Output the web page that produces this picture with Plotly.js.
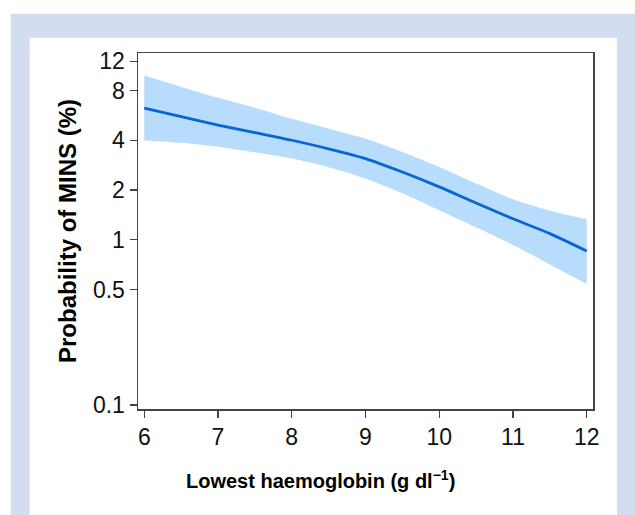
<!DOCTYPE html>
<html>
<head>
<meta charset="utf-8">
<script src="https://cdn.plot.ly/plotly-3.0.1.min.js"></script>
<style>
  html, body { margin: 0; padding: 0; background: #ffffff; }
  #chart { width: 635px; height: 515px; }
</style>
</head>
<body>
<div id="chart"></div>
<script>
// Lowest haemoglobin (g/dl)
const hb = [6, 6.5, 7, 7.5, 8, 8.5, 9, 9.5, 10, 10.5, 11, 11.5, 12];
// Probability of MINS (%) – estimate and 95% band
const probMid   = [6.25, 5.55, 4.94, 4.45, 4.0, 3.55, 3.10, 2.57, 2.09, 1.67, 1.34, 1.09, 0.855];
const probUpper = [9.84, 8.40, 7.22, 6.30, 5.39, 4.70, 4.09, 3.40, 2.76, 2.19, 1.76, 1.50, 1.33];
const probLower = [3.99, 3.86, 3.65, 3.38, 3.10, 2.75, 2.35, 1.91, 1.51, 1.19, 0.93, 0.71, 0.54];

const xTickVals = [6, 7, 8, 9, 10, 11, 12];
const yTickVals = [0.1, 0.5, 1, 2, 4, 8, 12];
const yTickText = ['0.1', '0.5', '1', '2', '4', '8', '12'];
const xTitle = '<b>Lowest haemoglobin (g dl<sup>−1</sup>)</b>';
const yTitle = '<b>Probability of MINS (%)</b>';

const FONT = 'Liberation Sans, Arial, Helvetica, sans-serif';

const traces = [
  {
    x: hb, y: probLower, type: 'scatter', mode: 'lines',
    line: { width: 0, shape: 'spline', smoothing: 0.8, color: 'rgba(0,0,0,0)' },
    hoverinfo: 'skip', showlegend: false
  },
  {
    x: hb, y: probUpper, type: 'scatter', mode: 'lines',
    fill: 'tonexty', fillcolor: '#b8dcfc',
    line: { width: 0, shape: 'spline', smoothing: 0.8, color: 'rgba(0,0,0,0)' },
    hoverinfo: 'skip', showlegend: false
  },
  {
    x: hb, y: probMid, type: 'scatter', mode: 'lines',
    line: { width: 2.8, color: '#0866d2', shape: 'spline', smoothing: 0.8 },
    showlegend: false
  }
];

const layout = {
  width: 635, height: 515,
  margin: { l: 137.5, r: 42, t: 52.5, b: 105.5, pad: 0 },
  paper_bgcolor: '#ffffff',
  plot_bgcolor: '#ffffff',
  showlegend: false,
  font: { family: FONT, color: '#111111', size: 22 },
  xaxis: {
    range: [5.915, 12.085],
    tickvals: xTickVals,
    ticks: 'outside', ticklen: 7, tickwidth: 1.3, tickcolor: '#444444',
    showline: true, linecolor: '#444444', linewidth: 1.5, mirror: true,
    showgrid: false, zeroline: false,
    tickfont: { family: FONT, size: 23, color: '#111111' }
  },
  yaxis: {
    type: 'log',
    range: [-1.0235, 1.1298],
    tickvals: yTickVals, ticktext: yTickText,
    ticks: 'outside', ticklen: 7, tickwidth: 1.3, tickcolor: '#444444',
    showline: true, linecolor: '#444444', linewidth: 1.5, mirror: true,
    showgrid: false, zeroline: false,
    tickfont: { family: FONT, size: 23, color: '#111111' },
    title: { text: yTitle, font: { family: FONT, size: 24, color: '#000000' }, standoff: 9 }
  },
  annotations: [
    { text: xTitle, xref: 'paper', yref: 'paper', x: 0.4007, y: -0.197,
      xanchor: 'center', yanchor: 'middle', showarrow: false,
      font: { family: FONT, size: 20, color: '#000000' } }
  ],
  shapes: [
    { type: 'rect', xref: 'paper', yref: 'paper', layer: 'below',
      x0: -0.2799, x1: 1.12, y0: -0.32, y1: 1.1100,
      fillcolor: '#d4ddef', line: { width: 0 } },
    { type: 'rect', xref: 'paper', yref: 'paper', layer: 'below',
      x0: -0.2382, x1: 1.0527, y0: -0.32, y1: 1.0428,
      fillcolor: '#ffffff', line: { width: 0 } }
  ]
};

Plotly.newPlot('chart', traces, layout, { displayModeBar: false, staticPlot: true });
</script>
</body>
</html>
